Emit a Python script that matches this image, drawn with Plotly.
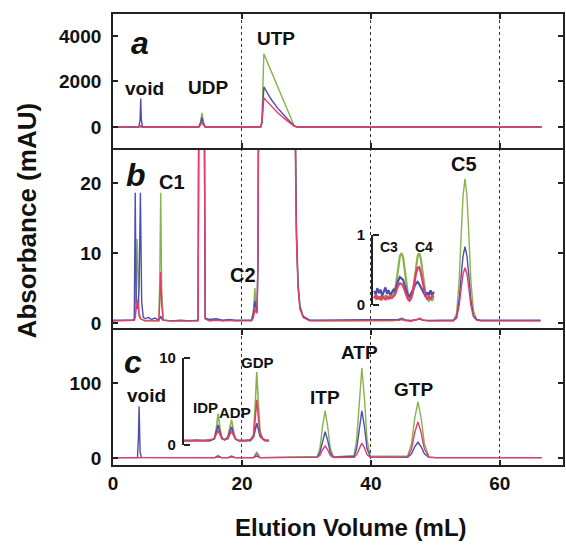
import plotly.graph_objects as go

# ---------------- data ----------------
# Panel a (mAU)
vol_a = [0, 4.0, 4.2, 4.3, 4.4, 4.6, 13.3, 13.6, 13.8, 14.0, 14.3, 22.9, 23.1, 23.4,
         24.5, 25.5, 26.5, 27.5, 28.1, 28.6, 66.5]
a_green = [0, 0, 0, 60, 0, 0, 0, 250, 620, 250, 0, 0, 300, 3210, 2480, 1810, 1140, 470, 60, 0, 0]
a_blue = [0, 0, 300, 1250, 300, 0, 0, 180, 420, 180, 0, 0, 200, 1760, 1230, 840, 530, 250, 50, 0, 0]
a_red = [0, 0, 20, 80, 20, 0, 0, 100, 230, 100, 0, 0, 150, 1280, 930, 640, 390, 170, 35, 0, 0]

# Panel b (mAU)
vol_b = [0.0, 1.5, 3.0, 3.3, 3.45, 3.6, 3.75, 3.9, 4.05, 4.25,
         4.45, 4.7, 5.0, 5.5, 6.0, 6.5, 7.1, 7.25, 7.4, 7.55,
         7.8, 9.0, 10.5, 12.0, 13.2, 13.35, 13.8, 14.1, 14.3, 15.0,
         16.0, 17.0, 18.0, 19.0, 20.5, 21.5, 21.8, 22.0, 22.2, 22.35,
         22.5, 22.7, 23.5, 28.2, 28.45, 28.7, 29.0, 29.5, 30.5, 32.0,
         35.0, 38.0, 41.0, 43.5, 44.3, 44.8, 45.3, 46.2, 47.1, 47.6,
         48.1, 49.0, 51.0, 52.8, 53.3, 53.7, 54.0, 54.3, 54.6, 54.9,
         55.2, 55.5, 55.9, 56.4, 57.0, 60.0, 63.0, 66.3]
b_green = [0.3, 0.3, 0.3, 0.4, 1.0, 4.0, 12.0, 5.0, 1.5, 0.8,
           0.5, 0.4, 0.3, 0.4, 0.3, 0.3, 0.3, 6.0, 18.6, 5.0,
           0.4, 0.3, 0.3, 0.3, 0.3, 45, 620, 45, 0.6, 0.3,
           0.5, 0.3, 0.4, 0.3, 0.3, 0.4, 2.0, 5.0, 2.5, 2.0,
           10, 80, 3200, 40, 14, 6, 2.5, 1.0, 0.4, 0.3,
           0.3, 0.3, 0.3, 0.3, 0.5, 0.7, 0.45, 0.3, 0.5, 0.7,
           0.45, 0.3, 0.3, 0.3, 1.4, 6.2, 12.5, 18.2, 20.6, 18.2,
           12.5, 6.2, 1.8, 0.5, 0.3, 0.3, 0.3, 0.3]
b_blue = [0.4, 0.4, 0.4, 0.6, 18.6, 3.0, 2.0, 3.0, 5.0, 18.6,
          3.0, 0.8, 0.6, 0.8, 0.5, 0.7, 0.4, 0.6, 1.0, 0.6,
          0.4, 0.3, 0.4, 0.3, 0.4, 45, 450, 45, 0.7, 0.5,
          0.6, 0.4, 0.5, 0.4, 0.4, 0.4, 1.4, 3.2, 2.0, 1.6,
          10, 70, 1750, 35, 13, 5.5, 2.2, 0.9, 0.4, 0.4,
          0.4, 0.4, 0.4, 0.4, 0.5, 0.6, 0.45, 0.35, 0.45, 0.55,
          0.4, 0.35, 0.4, 0.4, 0.9, 3.4, 6.7, 9.6, 10.9, 9.6,
          6.7, 3.4, 1.1, 0.5, 0.4, 0.4, 0.4, 0.4]
b_red = [0.3, 0.3, 0.3, 0.4, 0.8, 2.0, 3.3, 2.5, 1.0, 0.6,
         0.5, 0.4, 0.3, 0.3, 0.3, 0.3, 0.3, 3.0, 7.3, 2.5,
         0.4, 0.3, 0.3, 0.3, 0.3, 45, 230, 45, 0.6, 0.3,
         0.4, 0.3, 0.4, 0.3, 0.3, 0.3, 0.8, 2.0, 1.5, 1.4,
         10, 60, 1280, 30, 12, 5, 2.0, 0.8, 0.3, 0.3,
         0.3, 0.3, 0.3, 0.3, 0.4, 0.5, 0.35, 0.25, 0.45, 0.6,
         0.4, 0.3, 0.3, 0.3, 0.7, 2.5, 4.9, 7.0, 7.9, 7.0,
         4.9, 2.5, 0.9, 0.4, 0.3, 0.3, 0.3, 0.3]

# Panel b inset (mAU, C3 / C4)
vol_bi = [40.5, 40.75, 41.0, 41.25, 41.5, 41.75, 42.0, 42.25, 42.5, 42.75,
          43.0, 43.25, 43.5, 43.75, 44.0, 44.25, 44.5, 44.75, 45.0, 45.25,
          45.5, 45.75, 46.0, 46.25, 46.5, 46.75, 47.0, 47.25, 47.5, 47.75,
          48.0, 48.25, 48.5, 48.75, 49.0, 49.25, 49.5, 49.75]
bi_green = [0.12, 0.09, 0.13, 0.10, 0.12, 0.08, 0.11, 0.13, 0.09, 0.12,
            0.10, 0.14, 0.15, 0.22, 0.36, 0.55, 0.70, 0.74, 0.68, 0.50,
            0.30, 0.15, 0.08, 0.10, 0.18, 0.34, 0.55, 0.70, 0.74, 0.66,
            0.48, 0.28, 0.14, 0.08, 0.06, 0.09, 0.07, 0.10]
bi_blue = [0.20, 0.15, 0.24, 0.17, 0.22, 0.13, 0.19, 0.25, 0.16, 0.21,
           0.14, 0.18, 0.22, 0.20, 0.28, 0.35, 0.40, 0.38, 0.36, 0.28,
           0.20, 0.14, 0.12, 0.16, 0.20, 0.26, 0.31, 0.33, 0.30, 0.25,
           0.20, 0.16, 0.12, 0.18, 0.14, 0.21, 0.13, 0.19]
bi_red = [0.10, 0.14, 0.08, 0.12, 0.07, 0.13, 0.10, 0.08, 0.12, 0.09,
          0.11, 0.10, 0.12, 0.15, 0.22, 0.28, 0.31, 0.30, 0.27, 0.20,
          0.13, 0.08, 0.06, 0.10, 0.18, 0.32, 0.45, 0.53, 0.54, 0.46,
          0.34, 0.22, 0.12, 0.09, 0.12, 0.08, 0.13, 0.11]

# Panel c (mAU)
vol_c = [0.0, 3.8, 3.95, 4.05, 4.2, 4.4, 15.8, 16.3, 16.8, 17.9,
         18.4, 18.9, 21.8, 22.3, 22.8, 31.7, 32.1, 32.5, 32.9, 33.3,
         33.7, 34.2, 37.4, 37.8, 38.2, 38.6, 39.0, 39.4, 39.9, 45.7,
         46.3, 46.8, 47.3, 47.8, 48.3, 49.0, 50.0, 66.5]
c_green = [0.5, 0.5, 0.8, 1.2, 0.8, 0.5, 0.5, 3.6, 0.5, 0.5,
           2.9, 0.5, 0.5, 8.4, 0.5, 2.0, 13, 42, 63, 42,
           13, 1.5, 3.5, 25, 80, 120, 80, 25, 2.5, 2.5,
           19, 53, 75, 53, 19, 1.5, 0.5, 0.5]
c_blue = [0.5, 0.5, 30, 69, 8, 0.8, 0.5, 2.3, 0.5, 0.5,
          2.1, 0.5, 0.5, 2.5, 0.5, 1.2, 7.5, 23.5, 35, 23.5,
          7.5, 1.0, 2.0, 13, 42, 63, 42, 13, 1.5, 1.0,
          5.5, 15, 21, 15, 5.5, 0.8, 0.5, 0.5]
c_red = [0.5, 0.5, 0.8, 1.2, 0.8, 0.5, 0.5, 1.7, 0.5, 0.5,
         1.6, 0.5, 0.5, 5.2, 0.5, 0.8, 3.5, 11, 16, 11,
         3.5, 0.7, 1.0, 4.5, 13.5, 20, 13.5, 4.5, 0.8, 1.5,
         12, 34, 48, 34, 12, 1.2, 0.5, 0.5]

# Panel c inset (mAU, IDP / ADP / GDP)
vol_ci = [11.0, 12.0, 13.0, 14.0, 15.0, 15.7, 16.0, 16.3, 16.6, 16.9,
          17.3, 17.8, 18.1, 18.4, 18.7, 19.0, 19.5, 20.5, 21.3, 21.8,
          22.05, 22.3, 22.55, 22.8, 23.2, 23.6, 24.2]
ci_green = [0.5, 0.5, 0.6, 0.5, 0.5, 0.7, 1.8, 3.6, 1.9, 0.8,
            0.6, 0.9, 2.0, 2.9, 1.6, 0.7, 0.5, 0.5, 0.6, 1.2,
            4.5, 8.4, 4.8, 1.6, 0.8, 0.6, 0.5]
ci_blue = [0.5, 0.5, 0.5, 0.5, 0.5, 0.7, 1.4, 2.3, 1.4, 0.8,
           0.6, 0.8, 1.5, 2.1, 1.2, 0.7, 0.5, 0.5, 0.5, 0.9,
           1.8, 2.5, 1.8, 1.0, 0.7, 0.5, 0.5]
ci_red = [0.5, 0.5, 0.5, 0.5, 0.6, 0.7, 1.2, 1.7, 1.2, 0.7,
          0.6, 0.7, 1.2, 1.6, 1.1, 0.7, 0.5, 0.5, 0.6, 1.0,
          3.0, 5.2, 3.2, 1.3, 0.7, 0.5, 0.5]

x_ticks = [0, 20, 40, 60]
a_ticks = [0, 2000, 4000]
b_ticks = [0, 10, 20]
c_ticks = [0, 100]
bi_ticks = [0, 1]
ci_ticks = [0, 10]

# ---------------- styling ----------------
GREEN = "#8ab24c"
BLUE = "#4c4fae"
RED = "#e23d6d"
FONT = "Liberation Sans, Arial, sans-serif"
AX = "#222222"

fig = go.Figure()

def add_set(x, ys, xa, ya, width=1.4):
    for y, col in zip(ys, [GREEN, BLUE, RED]):
        fig.add_trace(go.Scatter(x=x, y=y, mode="lines", xaxis=xa, yaxis=ya,
                                 line=dict(color=col, width=width),
                                 showlegend=False, hoverinfo="skip"))

add_set(vol_a, [a_green, a_blue, a_red], "x3", "y3")
add_set(vol_b, [b_green, b_blue, b_red], "x2", "y2")
add_set(vol_bi, [bi_green, bi_blue, bi_red], "x4", "y4", width=2.2)
add_set(vol_c, [c_green, c_blue, c_red], "x", "y")
add_set(vol_ci, [ci_green, ci_blue, ci_red], "x5", "y5", width=1.6)

tickfont = dict(family=FONT, size=19, color="#111", weight="bold")

def xax(show_labels, anchor, line=True):
    return dict(domain=[0, 1], range=[0, 69.8], anchor=anchor,
                tickvals=x_ticks, showticklabels=show_labels, tickfont=tickfont,
                ticks="inside" if line else "", ticklen=5, tickwidth=1.5, tickcolor=AX,
                showline=line, linecolor=AX, linewidth=1.8, mirror="allticks",
                showgrid=True, gridcolor="#333", griddash="dot", gridwidth=1.3,
                zeroline=False, ticklabelstandoff=0)

def yax(domain, rng, tv, anchor):
    return dict(domain=domain, range=rng, anchor=anchor, tickvals=tv,
                tickfont=tickfont, ticks="inside", ticklen=5, tickwidth=1.5,
                tickcolor=AX, showline=True, linecolor=AX, linewidth=1.8,
                mirror="allticks", showgrid=False, zeroline=False,
                ticklabelstandoff=6)

H = 451.0
def fy(py):
    return (465 - py) / H

inset_font = dict(family=FONT, size=15, color="#111", weight="bold")

def inset_axis(domain, rng, tv, pos):
    return dict(domain=domain, range=rng, anchor="free", position=pos,
                tickvals=tv, ticks="", showline=True, linecolor=AX,
                linewidth=1.5, showgrid=False, zeroline=False,
                tickfont=inset_font, ticklabelstandoff=3)

def inset_ticks(domain, rng, tv, pos, over):
    return dict(domain=domain, range=rng, anchor="free", position=pos,
                overlaying=over, side="right", tickvals=tv, ticks="outside",
                ticklen=6, tickwidth=1.5, tickcolor=AX, showline=False,
                showticklabels=False, showgrid=False, zeroline=False)

bi_dom = [fy(305), fy(235)]
ci_dom = [fy(445), fy(358)]
bi_pos = (373 - 113) / 452
ci_pos = (183 - 113) / 452

fig.update_layout(
    width=566, height=546,
    margin=dict(l=113, r=1, t=14, b=81),
    paper_bgcolor="white", plot_bgcolor="rgba(0,0,0,0)",
    xaxis=xax(True, "y"),
    xaxis2=xax(False, "y2", line=False),
    xaxis3=xax(False, "y3"),
    xaxis4=dict(domain=[0, 1], range=[0, 69.8], anchor="y4", visible=False),
    xaxis5=dict(domain=[0, 1], range=[0, 69.8], anchor="y5", visible=False),
    yaxis=yax([0, fy(330)], [-9.3, 170.7], c_ticks, "x"),
    yaxis2=yax([fy(330), fy(148)], [-1.0, 25.0], b_ticks, "x2"),
    yaxis3=yax([fy(148), 1], [-920, 4960], a_ticks, "x3"),
    yaxis4=inset_axis(bi_dom, [0, 1], bi_ticks, bi_pos),
    yaxis5=inset_axis(ci_dom, [0, 10], ci_ticks, ci_pos),
    yaxis6=inset_ticks(bi_dom, [0, 1], bi_ticks, bi_pos, "y4"),
    yaxis7=inset_ticks(ci_dom, [0, 10], ci_ticks, ci_pos, "y5"),
)

# invisible carriers so the tick-only axes are drawn
fig.add_trace(go.Scatter(x=[vol_bi[0]], y=[bi_green[0]], xaxis="x4", yaxis="y6",
                         mode="lines", line=dict(width=0), showlegend=False,
                         hoverinfo="skip"))
fig.add_trace(go.Scatter(x=[vol_ci[0]], y=[ci_green[0]], xaxis="x5", yaxis="y7",
                         mode="lines", line=dict(width=0), showlegend=False,
                         hoverinfo="skip"))

def lab(text, x, y, ax, ay, size=19, italic=False):
    fig.add_annotation(text=text, x=x, y=y, xref=ax, yref=ay, showarrow=False,
                       xanchor="center", yanchor="middle",
                       font=dict(family=FONT, size=size, color="#111", weight="bold",
                                 style="italic" if italic else "normal"))

# panel a labels
lab("a", 4.2, 3690, "x3", "y3", size=32, italic=True)
lab("void", 4.9, 1670, "x3", "y3")
lab("UDP", 14.7, 1714, "x3", "y3")
lab("UTP", 25.3, 3868, "x3", "y3")
# panel b labels
lab("b", 3.55, 21.1, "x2", "y2", size=32, italic=True)
lab("C1", 9.1, 20.1, "x2", "y2", size=20)
lab("C2", 20.1, 6.9, "x2", "y2", size=20)
lab("C3", 42.8, 10.9, "x2", "y2", size=14)
lab("C4", 48.2, 10.9, "x2", "y2", size=14)
lab("C5", 54.5, 22.7, "x2", "y2", size=20)
# panel c labels
lab("c", 3.1, 128, "x", "y", size=32, italic=True)
lab("void", 5.25, 84, "x", "y")
lab("IDP", 14.4, 68, "x", "y", size=15)
lab("ADP", 19.0, 61, "x", "y", size=15)
lab("GDP", 22.4, 128, "x", "y", size=15)
lab("ITP", 32.9, 81, "x", "y")
lab("ATP", 38.3, 141, "x", "y")
lab("GTP", 46.6, 92, "x", "y")

# axis titles
fig.add_annotation(text="Absorbance (mAU)", x=(27 - 113) / 452, y=fy(221),
                   xref="paper", yref="paper", showarrow=False, textangle=-90,
                   xanchor="center", yanchor="middle",
                   font=dict(family=FONT, size=26, color="#111", weight="bold"))
fig.add_annotation(text="Elution Volume (mL)", x=(352 - 113) / 452, y=fy(527),
                   xref="paper", yref="paper", showarrow=False,
                   xanchor="center", yanchor="middle",
                   font=dict(family=FONT, size=24, color="#111", weight="bold"))

fig.write_html("out.html")
